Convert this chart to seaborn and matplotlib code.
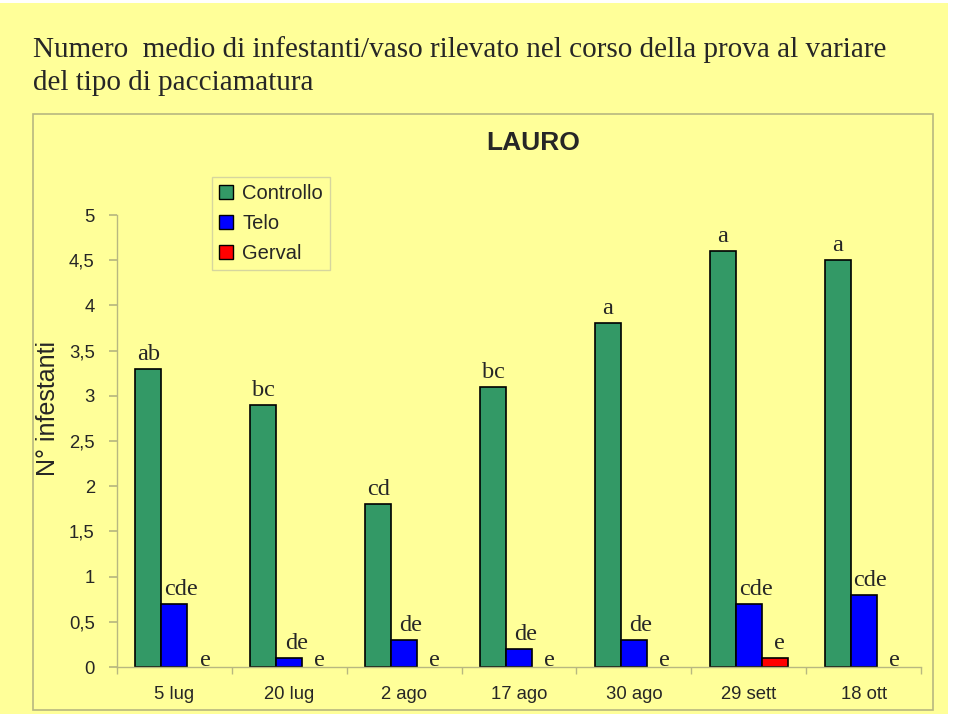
import matplotlib
matplotlib.use("Agg")
import matplotlib.pyplot as plt
import seaborn as sns
import pandas as pd
from matplotlib.patches import Rectangle
from matplotlib.ticker import FuncFormatter

dates = ["5 lug", "20 lug", "2 ago", "17 ago", "30 ago", "29 sett", "18 ott"]
series = ["Controllo", "Telo", "Gerval"]
controllo = [3.3, 2.9, 1.8, 3.1, 3.8, 4.6, 4.5]
telo = [0.7, 0.1, 0.3, 0.2, 0.3, 0.7, 0.8]
gerval = [0.0, 0.0, 0.0, 0.0, 0.0, 0.1, 0.0]
lab_controllo = ["ab", "bc", "cd", "bc", "a", "a", "a"]
lab_telo = ["cde", "de", "de", "de", "de", "cde", "cde"]
lab_gerval = ["e", "e", "e", "e", "e", "e", "e"]
colors = ["#339966", "#0000FF", "#FF0000"]

rows = []
for s, vals in zip(series, [controllo, telo, gerval]):
    for d, v in zip(dates, vals):
        rows.append({"data": d, "serie": s, "valore": v})
df = pd.DataFrame(rows)

sns.set_theme(style="white")
plt.rcParams["font.family"] = ["Liberation Sans", "DejaVu Sans"]

YEL = "#FFFF99"
EDGE = "#B8B880"

fig = plt.figure(figsize=(9.6, 7.2), dpi=100)
fig.patch.set_facecolor("white")
fig.patches.append(Rectangle((0, 6 / 720), 948 / 960, 1 - 9 / 720, transform=fig.transFigure,
                             facecolor=YEL, edgecolor="none", zorder=-10))
fig.patches.append(Rectangle((33 / 960, 1 - 710 / 720), (933 - 33) / 960, (710 - 114) / 720,
                             transform=fig.transFigure, facecolor="none", edgecolor=EDGE,
                             linewidth=1.2, zorder=-5))

ax = fig.add_axes([117 / 960, 53 / 720, (921 - 117) / 960, (667 - 215) / 720])
ax.set_facecolor("none")

sns.barplot(data=df, x="data", y="valore", hue="serie", order=dates, hue_order=series,
            palette=colors, width=0.68, edgecolor="black", linewidth=1.2,
            saturation=1, ax=ax, legend=True)

ax.set_ylim(0, 5)
ax.set_xlim(-0.5, len(dates) - 0.5)
ax.set_yticks([0, 0.5, 1, 1.5, 2, 2.5, 3, 3.5, 4, 4.5, 5])
ax.yaxis.set_major_formatter(FuncFormatter(lambda v, p: (f"{v:g}").replace(".", ",")))
ax.set_xticks(range(len(dates)))
ax.set_xticklabels(dates)
ax.set_xticks([i - 0.5 for i in range(len(dates) + 1)], minor=True)
ax.tick_params(axis="x", which="major", length=0, pad=14, labelsize=13.3)
ax.tick_params(axis="x", which="minor", length=5, color=EDGE, direction="out", bottom=True)
ax.tick_params(axis="y", length=6, color=EDGE, direction="out", left=True, labelsize=13.3, pad=10)
for sp in ["top", "right"]:
    ax.spines[sp].set_visible(False)
for sp in ["left", "bottom"]:
    ax.spines[sp].set_color(EDGE)
    ax.spines[sp].set_linewidth(1.0)
ax.set_xlabel("")
ax.set_ylabel("")
fig.text(48 / 960, 1 - 409 / 720, "N° infestanti", rotation=90, ha="center", va="center",
         fontsize=18)

serif = ["Liberation Serif", "DejaVu Serif"]
for cont, labs, dx in zip(ax.containers, [lab_controllo, lab_telo, lab_gerval], [0.0, 0.06, 0.04]):
    for bar, lab in zip(cont, labs):
        x = bar.get_x() + bar.get_width() / 2 + dx
        h = bar.get_height()
        if h == 0:
            bar.set_linewidth(0)
        off = 1 if h == 0 else 9
        ax.annotate(lab, (x, h), xytext=(0, off), textcoords="offset pixels", ha="center",
                    va="baseline", fontsize=17.5, family=serif, clip_on=False)

leg = ax.legend(loc="upper left", bbox_to_anchor=(212 / 960, 1 - 177 / 720),
                bbox_transform=fig.transFigure, fontsize=14.5, frameon=True, fancybox=False,
                handlelength=0.7, handleheight=0.7, handletextpad=0.45, borderpad=0.35,
                borderaxespad=0, labelspacing=0.55, title=None)
leg.get_frame().set_facecolor(YEL)
leg.get_frame().set_edgecolor("#CCCCA0")
for h in leg.legend_handles:
    h.set_edgecolor("black")
    h.set_linewidth(1.0)

fig.text(33 / 960, 1 - 50 / 720, "Numero  medio di infestanti/vaso rilevato nel corso della prova al variare",
         family=serif, fontsize=21, ha="left", va="center")
fig.text(33 / 960, 1 - 83 / 720, "del tipo di pacciamatura",
         family=serif, fontsize=21, ha="left", va="center")
fig.text(533 / 960, 1 - 143 / 720, "LAURO", fontsize=19, fontweight="bold", ha="center",
         va="center")

fig.savefig("out.png", dpi=100, facecolor=fig.get_facecolor())
